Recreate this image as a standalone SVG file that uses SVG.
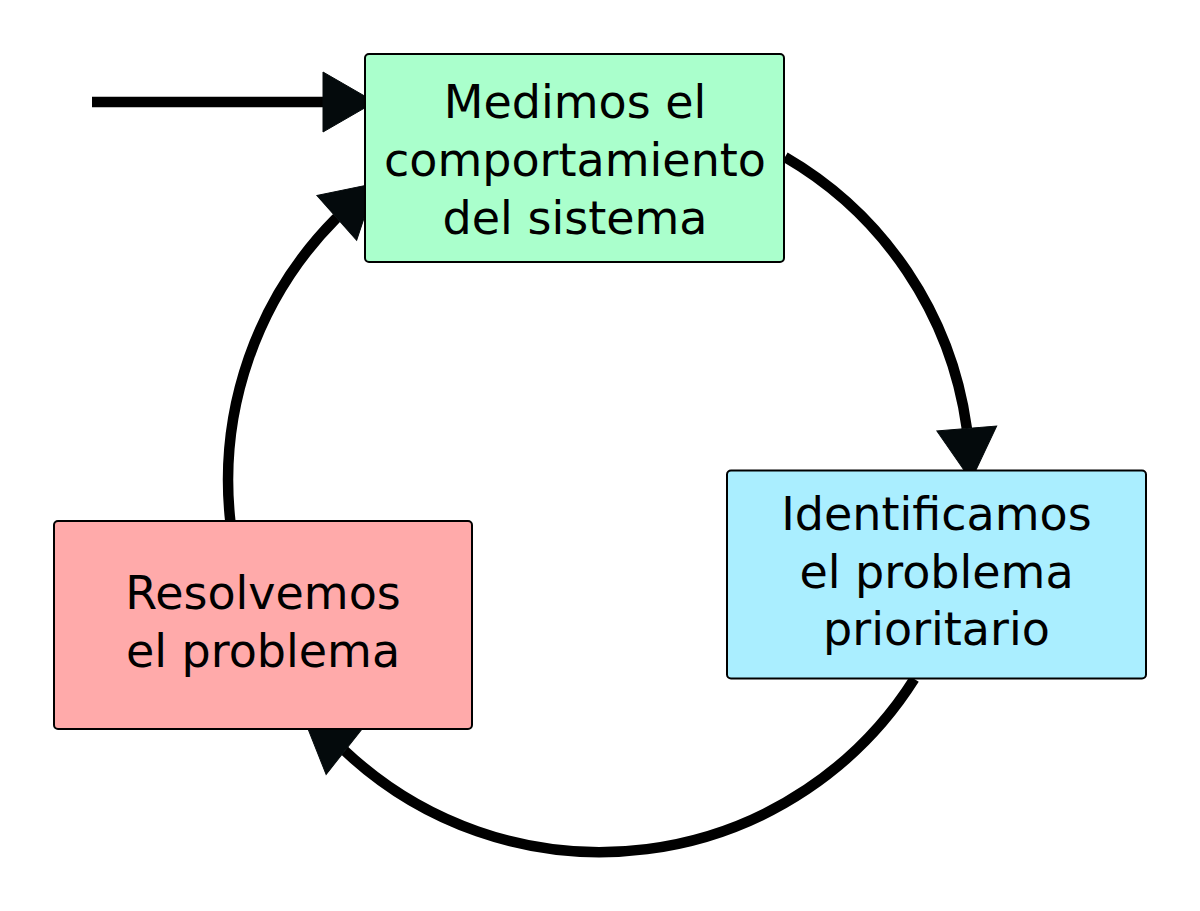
<svg xmlns="http://www.w3.org/2000/svg" width="1200" height="911" viewBox="0 0 1200 911">
  <style>
    .box { stroke: #000; stroke-width: 2; }
    .lbl { font-family: "DejaVu Sans", "Liberation Sans", sans-serif; font-size: 46px; fill: #000; text-anchor: middle; }
    .conn { fill: none; stroke: #000; stroke-width: 10.5; }
  </style>
  <defs>
    <marker id="arrow" markerUnits="userSpaceOnUse" markerWidth="54" markerHeight="62" refX="0" refY="30" orient="auto" overflow="visible">
      <path d="M0,0 L52,30 L0,60 Z" fill="#040a0c" stroke="#040a0c" stroke-width="1"/>
    </marker>
  </defs>
  <rect width="1200" height="911" fill="#fff"/>
  <g id="connectors">
    <path class="conn" d="M92,102 L323,102" marker-end="url(#arrow)"/>
    <path class="conn" d="M785,157 A372,372 0 0 1 966.7,427.5 l0.083,0.996" marker-end="url(#arrow)"/>
    <path class="conn" d="M914.3,679 A372,372 0 0 1 345.5,751.5 l-0.784,-0.621" marker-end="url(#arrow)"/>
    <path class="conn" d="M230.3,521 A372,372 0 0 1 336,218.5 l0.748,-0.664" marker-end="url(#arrow)"/>
  </g>
  <g id="node-medimos">
    <rect class="box" x="365" y="54" width="419" height="208" rx="4" fill="#aaffcc"/>
    <text class="lbl" x="575" y="118">Medimos el</text>
    <text class="lbl" x="575" y="176">comportamiento</text>
    <text class="lbl" x="575" y="234">del sistema</text>
  </g>
  <g id="node-identificamos">
    <rect class="box" x="727" y="470.5" width="419" height="208" rx="4" fill="#aaeeff"/>
    <text class="lbl" x="936.5" y="530">Identificamos</text>
    <text class="lbl" x="936.5" y="588">el problema</text>
    <text class="lbl" x="936.5" y="645">prioritario</text>
  </g>
  <g id="node-resolvemos">
    <rect class="box" x="54" y="521" width="418" height="208" rx="4" fill="#ffaaaa"/>
    <text class="lbl" x="263" y="609">Resolvemos</text>
    <text class="lbl" x="263" y="667">el problema</text>
  </g>
</svg>
